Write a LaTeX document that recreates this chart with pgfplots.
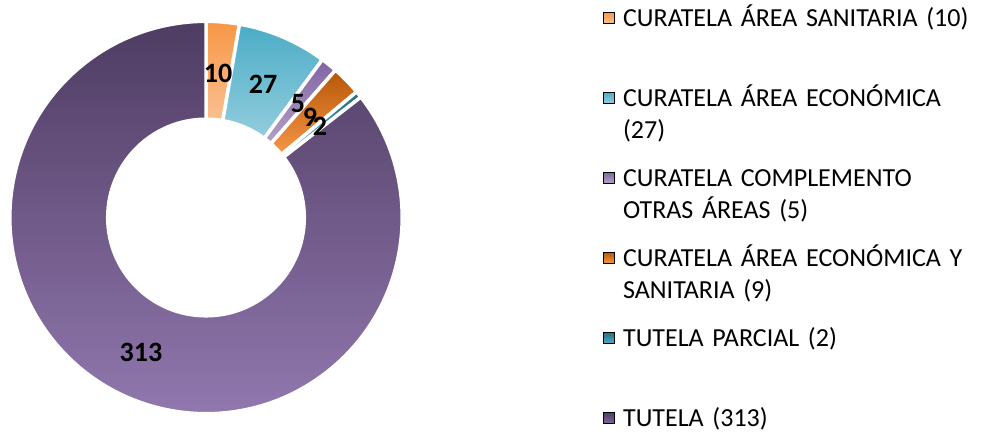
\documentclass[border=0pt]{standalone}
\usepackage{pgfplots}
\pgfplotsset{compat=1.18}
\usepackage{pgfplotstable}
\usepackage{fontspec}
\setmainfont{Carlito}

\definecolor{cAt}{HTML}{F79646}\definecolor{cAb}{HTML}{FAC090}
\definecolor{cBt}{HTML}{4BACC6}\definecolor{cBb}{HTML}{93CDDD}
\definecolor{cCt}{HTML}{8064A2}\definecolor{cCb}{HTML}{B3A2C7}
\definecolor{cDt}{HTML}{B65708}\definecolor{cDb}{HTML}{F79646}
\definecolor{cEt}{HTML}{276D80}\definecolor{cEb}{HTML}{4BACC6}
\definecolor{cFt}{HTML}{4E3C62}\definecolor{cFb}{HTML}{957BB3}

\pgfplotstableread{
value top bot
10 cAt cAb
27 cBt cBb
5 cCt cCb
9 cDt cDb
2 cEt cEb
313 cFt cFb
}\slices

\begin{document}
\begin{tikzpicture}
\useasboundingbox (0,0) rectangle (982pt,-434pt);
\begin{axis}[
  scale only axis, width=400pt, height=400pt,
  xmin=-200, xmax=200, ymin=-200, ymax=200,
  hide axis, clip=false,
  at={(6pt,-417.5pt)}, anchor=south west,
  legend style={
    at={(axis cs:397,213.5)}, anchor=north west,
    draw=none, fill=none, inner sep=0pt,
    row sep=0pt, column sep=0pt,
    font=\fontsize{26}{32}\selectfont,
    nodes={anchor=base west, text width=355pt, align=left,
      text height=20pt, text depth=56pt, inner xsep=8.5pt, inner ysep=2pt},
  },
]
\pgfplotsextra{
  \def\rO{196.2pt}\def\rI{98.3pt}
  \xdef\total{0}
  \foreach \i in {0,...,5}{
    \pgfplotstablegetelem{\i}{value}\of\slices
    \pgfmathsetmacro{\t}{\total+\pgfplotsretval}
    \xdef\total{\t}
  }
  \xdef\cum{0}
  \foreach \i in {0,...,5}{
    \pgfplotstablegetelem{\i}{value}\of\slices
    \let\v\pgfplotsretval
    \pgfmathsetmacro{\aS}{90-(\cum/\total)*360}
    \pgfmathsetmacro{\nc}{\cum+\v}
    \pgfmathsetmacro{\aE}{90-(\nc/\total)*360}
    \xdef\cum{\nc}
    \pgfplotstablegetelem{\i}{top}\of\slices \let\ct\pgfplotsretval
    \pgfplotstablegetelem{\i}{bot}\of\slices \let\cb\pgfplotsretval
    \begin{scope}[shift={(axis cs:0,0)}]
      \shadedraw[top color=\ct, bottom color=\cb, draw=white, line width=3.5pt]
        (\aS:\rO) arc[start angle=\aS, end angle=\aE, radius=\rO]
        -- (\aE:\rI) arc[start angle=\aE, end angle=\aS, radius=\rI] -- cycle;
    \end{scope}
  }
}
\begin{scope}[font=\fontsize{28}{30}\selectfont\bfseries]
\node at (axis cs:12,144.5) {10};
\node at (axis cs:57,133.5) {27};
\node at (axis cs:92,113.5) {5};
\node at (axis cs:104,100.5) {9};
\node at (axis cs:114,91.5) {2};
\node at (axis cs:-65,-134.5) {313};
\end{scope}
\addlegendimage{legend image code/.code={\shade[top color=cAt,bottom color=cAb] (0pt,3pt) rectangle (11pt,14pt);}}
\addlegendentry{CURATELA ÁREA SANITARIA (10)}
\addlegendimage{legend image code/.code={\shade[top color=cBt,bottom color=cBb] (0pt,3pt) rectangle (11pt,14pt);}}
\addlegendentry{CURATELA ÁREA ECONÓMICA\\(27)}
\addlegendimage{legend image code/.code={\shade[top color=cCt,bottom color=cCb] (0pt,3pt) rectangle (11pt,14pt);}}
\addlegendentry{CURATELA COMPLEMENTO\\OTRAS ÁREAS (5)}
\addlegendimage{legend image code/.code={\shade[top color=cDt,bottom color=cDb] (0pt,3pt) rectangle (11pt,14pt);}}
\addlegendentry{CURATELA ÁREA ECONÓMICA Y\\SANITARIA (9)}
\addlegendimage{legend image code/.code={\shade[top color=cEt,bottom color=cEb] (0pt,3pt) rectangle (11pt,14pt);}}
\addlegendentry{TUTELA PARCIAL (2)}
\addlegendimage{legend image code/.code={\shade[top color=cFt,bottom color=cCt] (0pt,3pt) rectangle (11pt,14pt);}}
\addlegendentry{TUTELA (313)}
\end{axis}
\end{tikzpicture}
\end{document}
